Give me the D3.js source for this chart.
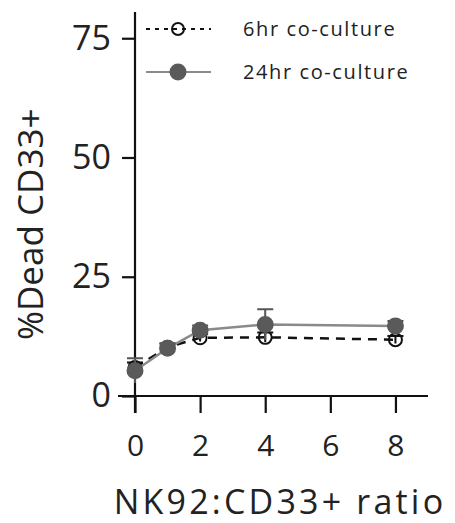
<!DOCTYPE html>
<html>
<head>
<meta charset="utf-8">
<script src="https://cdn.jsdelivr.net/npm/d3@7"></script>
<style>
  body { margin: 0; background: #fff; }
  text { font-family: "Open Sans", sans-serif; fill: #222; }
</style>
</head>
<body>
<script>
// data
var ratios = [0, 1, 2, 4, 8];
var hr6 = [6.0, 10.2, 12.2, 12.3, 11.8];
var hr6Err = [1.0, 0.8, 0.8, 1.0, 0.8];
var hr24 = [5.3, 10.0, 13.8, 15.0, 14.7];
var hr24Err = [2.6, 1.0, 1.0, 3.2, 1.0];
var yTicks = [0, 25, 50, 75];
var xTicks = [0, 2, 4, 6, 8];
var seriesNames = ["6hr co-culture", "24hr co-culture"];

var width = 455, height = 523;

var x = d3.scaleLinear().domain([0, 9]).range([135, 428]);
var y = d3.scaleLinear().domain([0, 80.5]).range([396, 12]);

var svg = d3.select("body").append("svg")
    .attr("width", width)
    .attr("height", height);

// y axis
var yAxis = svg.append("g")
    .attr("transform", "translate(" + x(0) + ",0)")
    .call(d3.axisLeft(y).tickValues(yTicks).tickSize(13).tickPadding(11));
yAxis.select(".domain").attr("d", "M0," + y(80.5) + "V" + (y(0) + 17));
yAxis.selectAll("line, path").attr("stroke", "#111").attr("stroke-width", 2.2);
yAxis.selectAll("text").style("font-size", "34px").attr("fill", "#333").attr("font-family", "Open Sans");

// x axis
var xAxis = svg.append("g")
    .attr("transform", "translate(0," + y(0) + ")")
    .call(d3.axisBottom(x).tickValues(xTicks).tickSize(17).tickPadding(22));
xAxis.select(".domain").attr("d", "M118,0H" + x(9));
xAxis.selectAll("line, path").attr("stroke", "#111").attr("stroke-width", 2.2);
xAxis.selectAll("text").style("font-size", "30px").attr("fill", "#333").attr("font-family", "Open Sans");

// axis titles
svg.append("text")
    .attr("x", 280).attr("y", 514)
    .attr("text-anchor", "middle")
    .style("font-size", "34px")
    .style("letter-spacing", "3.2px")
    .text("NK92:CD33+ ratio");

// y title: bottom of the "%" sits at about y = 340
svg.append("text")
    .attr("transform", "translate(43,340) rotate(-90)")
    .attr("text-anchor", "start")
    .style("font-size", "35px")
    .text("%Dead CD33+");

var line = d3.line()
    .x(function(d) { return x(d[0]); })
    .y(function(d) { return y(d[1]); });

function series(vals, errs, opts) {
  var pts = ratios.map(function(r, i) { return [r, vals[i], errs[i]]; });
  var g = svg.append("g");
  g.append("path")
      .datum(pts)
      .attr("d", line)
      .attr("fill", "none")
      .attr("stroke", opts.line)
      .attr("stroke-width", 2.5)
      .attr("stroke-dasharray", opts.dash);
  g.selectAll(".err")
      .data(pts)
    .enter().append("path")
      .attr("d", function(d) {
        var cx = x(d[0]), t = y(d[1] + d[2]), b = y(d[1] - d[2]);
        return "M" + cx + "," + b + "V" + t + "M" + (cx - 8) + "," + t + "H" + (cx + 8);
      })
      .attr("fill", "none")
      .attr("stroke", opts.err)
      .attr("stroke-width", 2);
  g.selectAll("circle")
      .data(pts)
    .enter().append("circle")
      .attr("cx", function(d) { return x(d[0]); })
      .attr("cy", function(d) { return y(d[1]); })
      .attr("r", opts.r)
      .attr("fill", opts.fill)
      .attr("stroke", opts.stroke)
      .attr("stroke-width", 2);
}

series(hr6, hr6Err, { line: "#111", dash: "9,7", err: "#111", r: 6.5, fill: "none", stroke: "#111" });
series(hr24, hr24Err, { line: "#8a8a8a", dash: null, err: "#555", r: 7.5, fill: "#5a5a5a", stroke: "#5a5a5a" });

// legend
var legend = svg.append("g");
var legendRows = [
  { name: seriesNames[0], y: 29, line: "#111", dash: "4,5", r: 6, fill: "none", stroke: "#111" },
  { name: seriesNames[1], y: 72, line: "#8a8a8a", dash: null, r: 7.5, fill: "#5a5a5a", stroke: "#5a5a5a" }
];
legendRows.forEach(function(row) {
  legend.append("line")
      .attr("x1", 146).attr("x2", 211)
      .attr("y1", row.y).attr("y2", row.y)
      .attr("stroke", row.line)
      .attr("stroke-width", 2.2)
      .attr("stroke-dasharray", row.dash);
  legend.append("circle")
      .attr("cx", 178).attr("cy", row.y).attr("r", row.r)
      .attr("fill", row.fill).attr("stroke", row.stroke).attr("stroke-width", 2);
  legend.append("text")
      .attr("x", 243).attr("y", row.y + 7)
      .style("font-size", "20px")
      .style("letter-spacing", "1.6px")
      .text(row.name);
});
</script>
</body>
</html>
